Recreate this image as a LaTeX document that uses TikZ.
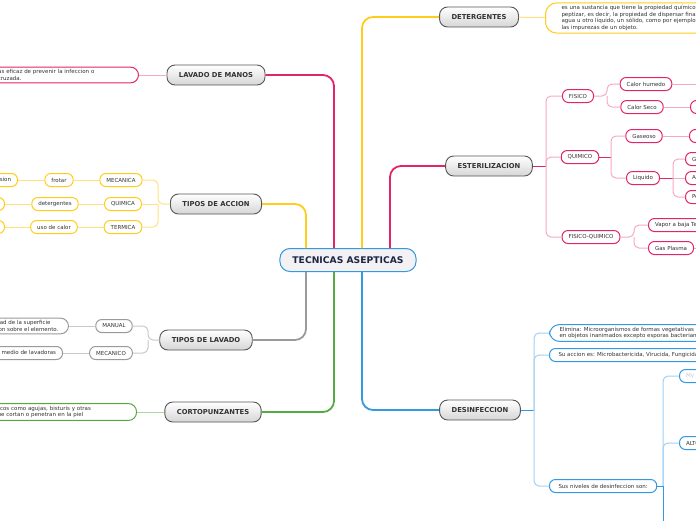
\documentclass[tikz,border=0pt]{standalone}
\usepackage{fontspec}
\setmainfont{DejaVu Sans}
\usepackage{tikz}
\usetikzlibrary{calc}
\definecolor{yel}{HTML}{FFCC1A}
\definecolor{yellite}{HTML}{FFE27F}
\definecolor{crim}{HTML}{E2246B}
\definecolor{crimlite}{HTML}{F5A9C6}
\definecolor{grayline}{HTML}{9A9A9A}
\definecolor{graylite}{HTML}{C8C8C8}
\definecolor{grn}{HTML}{55AA44}
\definecolor{grnlite}{HTML}{A9D99C}
\definecolor{blu}{HTML}{3399E0}
\definecolor{blulite}{HTML}{A2CFF2}
\definecolor{topicdraw}{HTML}{555555}
\definecolor{topicfill}{HTML}{D6D6D6}
\definecolor{rootfill}{HTML}{F3F1F4}
\definecolor{roottext}{HTML}{1B2745}
\definecolor{leaftext}{HTML}{333333}
\tikzset{
  root/.style={
    draw=blu,
    line width=1pt,
    rounded corners=10pt,
    fill=rootfill,
    minimum height=23pt,
    inner xsep=12.5pt,
    text=roottext,
    font=\fontsize{9.2}{10}\selectfont\bfseries
  },
  topic/.style={
    draw=topicdraw,
    line width=0.9pt,
    rounded corners=8pt,
    top color=white,
    bottom color=topicfill,
    minimum height=20pt,
    inner xsep=12pt,
    text=leaftext,
    font=\fontsize{6.8}{7.8}\selectfont\bfseries
  },
  leaf/.style={
    line width=1pt,
    rounded corners=6pt,
    fill=white,
    minimum height=13pt,
    inner xsep=6.5pt,
    inner ysep=1pt,
    text=leaftext,
    font=\fontsize{5.5}{6.5}\selectfont
  },
  note/.style={
    leaf,
    align=left,
    rounded corners=8pt,
    inner ysep=2.5pt,
    inner xsep=10pt
  },
  mainline/.style={
    line width=1.8pt,
    rounded corners=11pt
  },
  subline/.style={
    line width=1pt,
    rounded corners=5pt
  }
}

\begin{document}
\begin{tikzpicture}[x=1pt,y=-1pt]
    \path[use as bounding box] (0,0) rectangle (696,520);
    \clip (0,0) rectangle (696,520);

    % centro y ramas principales
    \node[root] (tec) at (348,260) {TECNICAS ASEPTICAS};
    \node[topic] (det) at (479,17) {DETERGENTES};
    \node[topic] (lav) at (216,75) {LAVADO DE MANOS};
    \node[topic] (est) at (489,166) {ESTERILIZACION};
    \node[topic] (acc) at (216,204) {TIPOS DE ACCION};
    \node[topic] (tlav) at (206,340) {TIPOS DE LAVADO};
    \node[topic] (cor) at (213,412) {CORTOPUNZANTES};
    \node[topic] (des) at (480,410) {DESINFECCION};

    \draw[mainline, yel] ([xshift=-42pt]tec.north) |- (acc.east);
    \draw[mainline, crim] ([xshift=-14pt]tec.north) |- (lav.east);
    \draw[mainline, yel] ([xshift=14pt]tec.north) |- (det.west);
    \draw[mainline, crim] ([xshift=42pt]tec.north) |- (est.west);
    \draw[mainline, grayline] ([xshift=-42pt]tec.south) |- (tlav.east);
    \draw[mainline, grn] ([xshift=-14pt]tec.south) |- (cor.east);
    \draw[mainline, blu] ([xshift=14pt]tec.south) |- (des.west);

    % detergentes
    \node[note, draw=yel, anchor=west, text width=180pt, inner xsep=16pt, rounded corners=11pt] (detn) at (545,18)
      {es una sustancia que tiene la propiedad químico-física de\\peptizar, es decir, la propiedad de dispersar finamente\\agua u otro líquido, un sólido, como por ejemplo\\las impurezas de un objeto.};
    \draw[subline, yellite] (det) -- (detn);

    % lavado de manos
    \node[note, draw=crim, anchor=east, text width=173pt] (lavn) at (139,75)
      {Es la medida mas eficaz de prevenir la infeccion o\\contaminacion cruzada.};
    \draw[subline, crimlite] (lav) -- (lavn);

    % tipos de accion
    \node[leaf, draw=yel] (mec) at (121,180) {MECANICA};
    \node[leaf, draw=yel] (qui) at (123,204) {QUIMICA};
    \node[leaf, draw=yel] (ter) at (123,227) {TERMICA};
    \node[leaf, draw=yel] (frot) at (59,180) {frotar};
    \node[leaf, draw=yel] (deter) at (55,204) {detergentes};
    \node[leaf, draw=yel] (calor) at (54,227) {uso de calor};
    \node[leaf, draw=yel, anchor=east] (pres) at (18,180) {presion};
    \node[leaf, draw=yel, anchor=east, minimum width=40pt] (quix) at (5,204) {};
    \node[leaf, draw=yel, anchor=east, minimum width=40pt] (terx) at (5,227) {};
    \coordinate (accj) at (158,204);
    \draw[subline, yellite] (acc.west) -- (accj) |- (mec.east);
    \draw[subline, yellite] (accj) |- (ter.east);
    \draw[subline, yellite] (accj) -- (qui.east);
    \draw[subline, yellite] (mec) -- (frot) -- (pres);
    \draw[subline, yellite] (qui) -- (deter) -- (quix);
    \draw[subline, yellite] (ter) -- (calor) -- (terx);

    % tipos de lavado
    \node[leaf, draw=grayline] (man) at (114,326) {MANUAL};
    \node[leaf, draw=grayline] (mecn) at (111,353) {MECANICO};
    \node[note, draw=grayline, anchor=east] (mann) at (69,326)
      {Retira la suciedad de la superficie\\mediante friccion sobre el elemento.};
    \node[leaf, draw=grayline, anchor=east] (mecnn) at (63,353) {Se realiza por medio de lavadoras};
    \coordinate (tlj) at (148,340);
    \draw[subline, graylite] (tlav.west) -- (tlj) |- (man.east);
    \draw[subline, graylite] (tlj) |- (mecn.east);
    \draw[subline, graylite] (man) -- (mann);
    \draw[subline, graylite] (mecn) -- (mecnn);

    % cortopunzantes
    \node[note, draw=grn, anchor=east, text width=171pt] (corn) at (137,412)
      {Elementos medicos como agujas, bisturis y otras\\herramientas que cortan o penetran en la piel};
    \draw[subline, grnlite] (cor) -- (corn);

    % esterilizacion
    \node[leaf, draw=crim] (fis) at (578,96) {FISICO};
    \node[leaf, draw=crim] (quim) at (580,157) {QUIMICO};
    \node[leaf, draw=crim] (fq) at (591,237) {FISICO-QUIMICO};
    \coordinate (estj) at (546,166);
    \draw[subline, crim] (est.east) -- (estj);
    \draw[subline, crimlite] (estj) |- (fis.west);
    \draw[subline, crimlite] (estj) |- (quim.west);
    \draw[subline, crimlite] (estj) |- (fq.west);

    \node[leaf, draw=crim] (chum) at (646,84) {Calor humedo};
    \node[leaf, draw=crim] (cseco) at (642,107) {Calor Seco};
    \coordinate (chumx) at (700,84);
    \node[leaf, draw=crim, anchor=west, minimum width=40pt] (csecox) at (690,107) {};
    \coordinate (fisj) at (607,96);
    \draw[subline, crimlite] (fis.east) -- (fisj) |- (chum.west);
    \draw[subline, crimlite] (fisj) |- (cseco.west);
    \draw[subline, crimlite] (chum) -- (chumx);
    \draw[subline, crimlite] (cseco) -- (csecox);

    \node[leaf, draw=crim] (gas) at (644,136) {Gaseoso};
    \node[leaf, draw=crim] (liq) at (643,178) {Liquido};
    \node[leaf, draw=crim, anchor=west, minimum width=40pt] (gasx) at (689,136) {};
    \coordinate (quimj) at (611,157);
    \draw[subline, crim] (quim.east) -- (quimj);
    \draw[subline, crimlite] (quimj) |- (gas.west);
    \draw[subline, crimlite] (quimj) |- (liq.west);
    \draw[subline, crimlite] (gas) -- (gasx);

    \node[leaf, draw=crim, anchor=west] (glu) at (685,159) {Glutaraldehido};
    \node[leaf, draw=crim, anchor=west] (aci) at (685,178) {Acido peracetico};
    \node[leaf, draw=crim, anchor=west] (per) at (685,197) {Peroxido de hidrogeno};
    \coordinate (liqj) at (673,178);
    \draw[subline, crim] (liq.east) -- (liqj);
    \draw[subline, crimlite] (liqj) |- (glu.west);
    \draw[subline, crimlite] (liqj) -- (aci.west);
    \draw[subline, crimlite] (liqj) |- (per.west);

    \node[leaf, draw=crim, anchor=west] (vap) at (648,225) {Vapor a baja Temperatura};
    \node[leaf, draw=crim, anchor=west] (pla) at (648,248) {Gas Plasma};
    \coordinate (plax) at (700,248);
    \coordinate (fqj) at (634,237);
    \draw[subline, crimlite] (fq.east) -- (fqj) |- (vap.west);
    \draw[subline, crimlite] (fqj) |- (pla.west);
    \draw[subline, crimlite] (pla) -- (plax);

    % desinfeccion
    \node[note, draw=blu, anchor=west, rounded corners=10pt] (elim) at (549,333)
      {Elimina: Microorganismos de formas vegetativas\\en objetos inanimados excepto esporas bacterianas};
    \node[leaf, draw=blu, anchor=west, inner xsep=9pt] (acci) at (549,355) {Su accion es: Microbactericida, Virucida, Fungicida};
    \node[leaf, draw=blu, anchor=west, inner xsep=9pt] (niv) at (549,486) {Sus niveles de desinfeccion son:};
    \coordinate (desj) at (534,410);
    \draw[subline, blu] (des.east) -- (desj);
    \draw[subline, blulite] (desj) |- (elim.west);
    \draw[subline, blulite] (desj) |- (acci.west);
    \draw[subline, blulite] (desj) |- (niv.west);

    \node[leaf, draw=blu, anchor=west, text=graylite] (myp) at (679,376) {My point};
    \node[leaf, draw=blu, anchor=west] (alto) at (679,443) {ALTO};
    \coordinate (nivj) at (663,486);
    \coordinate (nivb) at (663,530);
    \draw[subline, blu] (niv.east) -- (nivj);
    \draw[subline, blulite] (nivj) |- (myp.west);
    \draw[subline, blulite] (nivj) |- (alto.west);
    \draw[subline, blu] (nivj) -- (nivb);
\end{tikzpicture}
\end{document}
